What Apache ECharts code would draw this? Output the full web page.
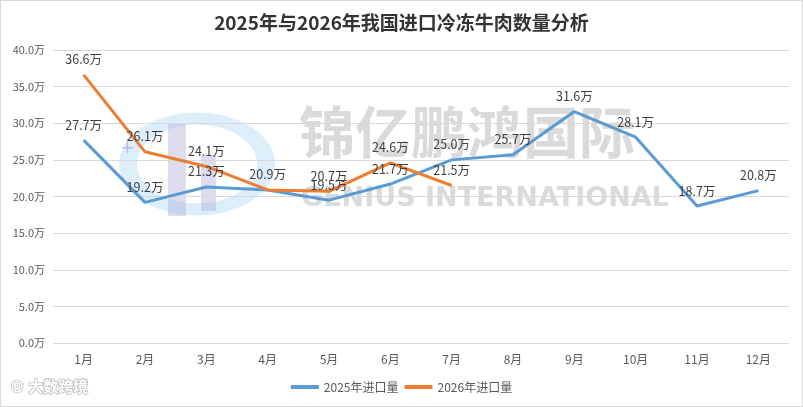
<!DOCTYPE html>
<html><head><meta charset="utf-8">
<script src="https://cdn.jsdelivr.net/npm/echarts@6/dist/echarts.min.js"></script>
<style>html,body{margin:0;padding:0;background:#fff;}#c{width:801px;height:405px;border:1px solid #d9d9d9;}</style>
</head><body><div id="c"></div>
<script>
const categories = ['1月','2月','3月','4月','5月','6月','7月','8月','9月','10月','11月','12月'];
const series2025 = [27.7, 19.2, 21.3, 20.9, 19.5, 21.7, 25.0, 25.7, 31.6, 28.1, 18.7, 20.8];
const series2026 = [36.6, 26.1, 24.1, 20.9, 20.7, 24.6, 21.5];
const hide2025LabelAt = [3];
const yTicks = {min: 0, max: 40, interval: 5};

const chart = echarts.init(document.getElementById('c'), null, {renderer: 'canvas'});
const font = '"Noto Sans CJK SC", "Noto Sans", sans-serif';
const d2025 = series2025.map((v, i) => hide2025LabelAt.includes(i) ? {value: v, label: {show: false}} : v);
const lbl = {show: true, position: 'top', distance: 9, color: '#404040', fontSize: 12.5, formatter: p => p.value.toFixed(1) + '万'};
chart.setOption({
  animation: false,
  textStyle: {fontFamily: font},
  title: {text: '2025年与2026年我国进口冷冻牛肉数量分析', left: 'center', top: 7,
    textStyle: {fontSize: 19, fontWeight: 'bold', color: '#333', fontFamily: font}},
  grid: {left: 52, right: 13, top: 49, bottom: 63, containLabel: false},
  legend: {bottom: 8, left: 'center', itemWidth: 28, itemHeight: 4, itemGap: 6, icon: 'rect',
    textStyle: {fontSize: 12, color: '#595959'},
    data: ['2025年进口量', '2026年进口量']},
  xAxis: {type: 'category', data: categories, boundaryGap: true,
    axisLine: {show: false}, axisTick: {show: false},
    axisLabel: {color: '#595959', fontSize: 12, margin: 10}},
  yAxis: {type: 'value', min: yTicks.min, max: yTicks.max, interval: yTicks.interval,
    axisLabel: {color: '#595959', fontSize: 11, margin: 8, formatter: v => v.toFixed(1) + '万'},
    splitLine: {lineStyle: {color: '#d9d9d9', width: 1}},
    axisLine: {show: false}, axisTick: {show: false}},
  graphic: [
    {type: 'ring', z: -10, shape: {cx: 0, cy: 0, r: 78, r0: 60}, x: 196, y: 163, scaleX: 1.0, scaleY: 0.66,
      style: {fill: 'rgba(140,200,240,0.3)'}},
    {type: 'rect', z: -9, shape: {x: 167, y: 123, width: 18, height: 92}, style: {fill: 'rgba(170,170,215,0.4)'}},
    {type: 'rect', z: -9, shape: {x: 200, y: 155, width: 15, height: 55}, style: {fill: 'rgba(170,170,215,0.4)'}},
    {type: 'text', z: -9, x: 120, y: 137, style: {text: '+', fontSize: 22, fill: 'rgba(160,160,210,0.6)', font: '22px sans-serif'}},
    {type: 'text', z: -8, left: 298, top: 103, style: {text: '锦亿鹏鸿国际', font: 'bold 56px "Noto Sans CJK SC"', fill: 'rgba(150,150,150,0.35)'}},
    {type: 'text', z: -8, left: 300, top: 184, style: {text: 'GENIUS INTERNATIONAL', font: 'bold 27px "DejaVu Sans"', fill: 'rgba(150,150,150,0.35)'}},
    {type: 'text', z: 10, left: 8, top: 377, style: {text: '⊙ 大数跨境', font: 'bold 15px "Noto Sans CJK SC"', fill: '#fff', stroke: '#bbb', lineWidth: 1.5}}
  ],
  series: [
    {name: '2025年进口量', type: 'line', data: d2025, symbol: 'circle', symbolSize: 0, showSymbol: true,
      lineStyle: {width: 3, color: '#5b9bd5'}, itemStyle: {color: '#5b9bd5'}, label: lbl},
    {name: '2026年进口量', type: 'line', data: series2026, symbol: 'circle', symbolSize: 0, showSymbol: true,
      lineStyle: {width: 3, color: '#ed7d31'}, itemStyle: {color: '#ed7d31'}, label: lbl}
  ]
});
</script></body></html>
